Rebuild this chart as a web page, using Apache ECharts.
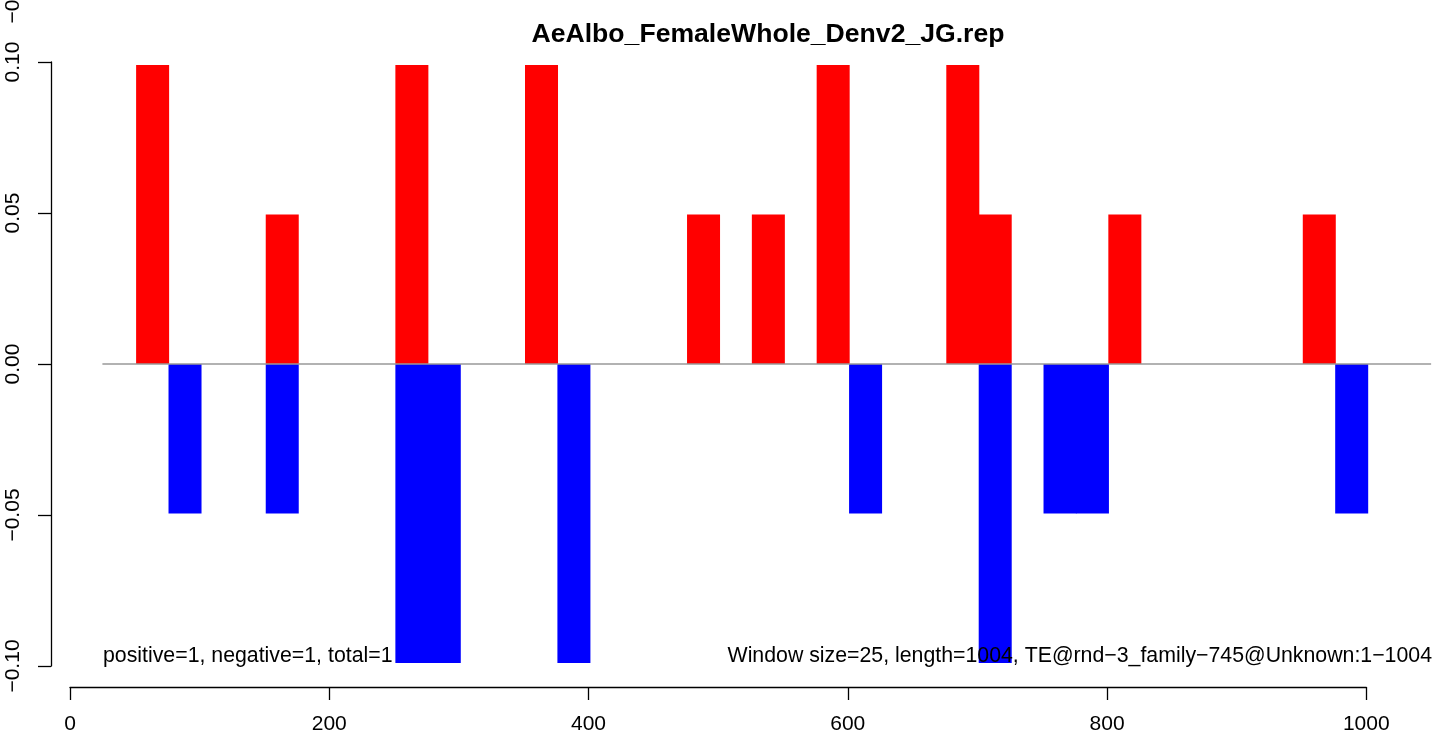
<!DOCTYPE html>
<html>
<head>
<meta charset="utf-8">
<script src="https://cdn.jsdelivr.net/npm/echarts@6/dist/echarts.min.js"></script>
<style>html,body{margin:0;padding:0;background:#fff;}#main{width:1439px;height:738px;}</style>
</head>
<body>
<div id="main"></div>
<script>
var titleText = 'AeAlbo_FemaleWhole_Denv2_JG.rep';
var windowSize = 25;
var posStarts = [51, 151, 251, 351, 476, 526, 576, 676, 701, 801, 951];
var posValues = [0.099, 0.0495, 0.099, 0.099, 0.0495, 0.0495, 0.099, 0.099, 0.0495, 0.0495, 0.0495];
var negStarts = [76, 151, 251, 276, 376, 601, 701, 751, 776, 976];
var negValues = [-0.0495, -0.0495, -0.099, -0.099, -0.099, -0.0495, -0.099, -0.0495, -0.0495, -0.0495];
var baselineX = [25, 1050];
var leftNote = 'positive=1, negative=1, total=1';
var rightNote = 'Window size=25, length=1004, TE@rnd\u22123_family\u2212745@Unknown:1\u22121004';
var clippedLabel = '\u22120.10';

var FONT = '"Liberation Sans", Arial, Helvetica, sans-serif';

function pairs(xs, ys) { return xs.map(function (x, i) { return [x, ys[i]]; }); }

function renderBar(color) {
  return function (params, api) {
    var s = api.value(0), v = api.value(1);
    var p0 = api.coord([s, 0]);
    var p1 = api.coord([s + windowSize, v]);
    return {
      type: 'rect',
      shape: { x: p0[0], y: Math.min(p0[1], p1[1]), width: p1[0] - p0[0] + 0.6, height: Math.abs(p1[1] - p0[1]) },
      style: { fill: color }
    };
  };
}

var chart = echarts.init(document.getElementById('main'));
chart.setOption({
  animation: false,
  backgroundColor: '#ffffff',
  title: {
    text: titleText,
    left: 763, textAlign: 'center', top: 16,
    textStyle: { fontFamily: FONT, fontSize: 26.6, fontWeight: 'bold', color: '#000' }
  },
  grid: [
    { left: 51, right: 7, top: 62, bottom: 72 },
    { left: 70, right: 72.7, top: 600, bottom: 51 }
  ],
  xAxis: [
    { gridIndex: 0, type: 'value', min: (51 - 70) / 1.2963, max: (1432 - 70) / 1.2963, show: false },
    {
      gridIndex: 1, type: 'value', min: 0, max: 1000, interval: 200, position: 'bottom',
      axisLine: { show: true, onZero: false, lineStyle: { color: '#000', width: 1.3 } },
      axisTick: { show: true, inside: false, length: 13, lineStyle: { color: '#000', width: 1.3 } },
      axisLabel: { show: true, margin: 27, fontFamily: FONT, fontSize: 21, color: '#000', formatter: function (v) { return String(v); } },
      splitLine: { show: false }
    }
  ],
  yAxis: [
    {
      gridIndex: 0, type: 'value', min: -0.1, max: 0.1, interval: 0.05, position: 'left',
      axisLine: { show: true, onZero: false, lineStyle: { color: '#000', width: 1.3 } },
      axisTick: { show: true, inside: false, length: 13, lineStyle: { color: '#000', width: 1.3 } },
      axisLabel: {
        show: true, rotate: 90, margin: 27, fontFamily: FONT, fontSize: 21, color: '#000',
        formatter: function (v) { var s = Math.abs(v).toFixed(2); return (v < -1e-9 ? '\u2212' : '') + s; }
      },
      splitLine: { show: false }
    },
    { gridIndex: 1, type: 'value', show: false }
  ],
  series: [
    { type: 'custom', xAxisIndex: 0, yAxisIndex: 0, renderItem: renderBar('#ff0000'), data: pairs(posStarts, posValues), z: 2, silent: true },
    { type: 'custom', xAxisIndex: 0, yAxisIndex: 0, renderItem: renderBar('#0000ff'), data: pairs(negStarts, negValues), z: 2, silent: true },
    {
      type: 'line', xAxisIndex: 0, yAxisIndex: 0, data: [[baselineX[0], 0], [baselineX[1], 0]],
      symbol: 'none', lineStyle: { color: '#999999', width: 1.3 }, z: 5, silent: true
    }
  ],
  graphic: [
    { type: 'text', x: 103, y: 656, z: 100, style: { text: leftNote, font: '21.3px ' + FONT, fill: '#000', textAlign: 'left', textVerticalAlign: 'middle' } },
    { type: 'text', x: 1432, y: 656, z: 100, style: { text: rightNote, font: '21.3px ' + FONT, fill: '#000', textAlign: 'right', textVerticalAlign: 'middle' } },
    { type: 'text', x: 13, y: -3, rotation: Math.PI / 2, z: 100, style: { text: clippedLabel, font: '21px ' + FONT, fill: '#000', textAlign: 'center', textVerticalAlign: 'middle' } }
  ]
});
</script>
</body>
</html>
